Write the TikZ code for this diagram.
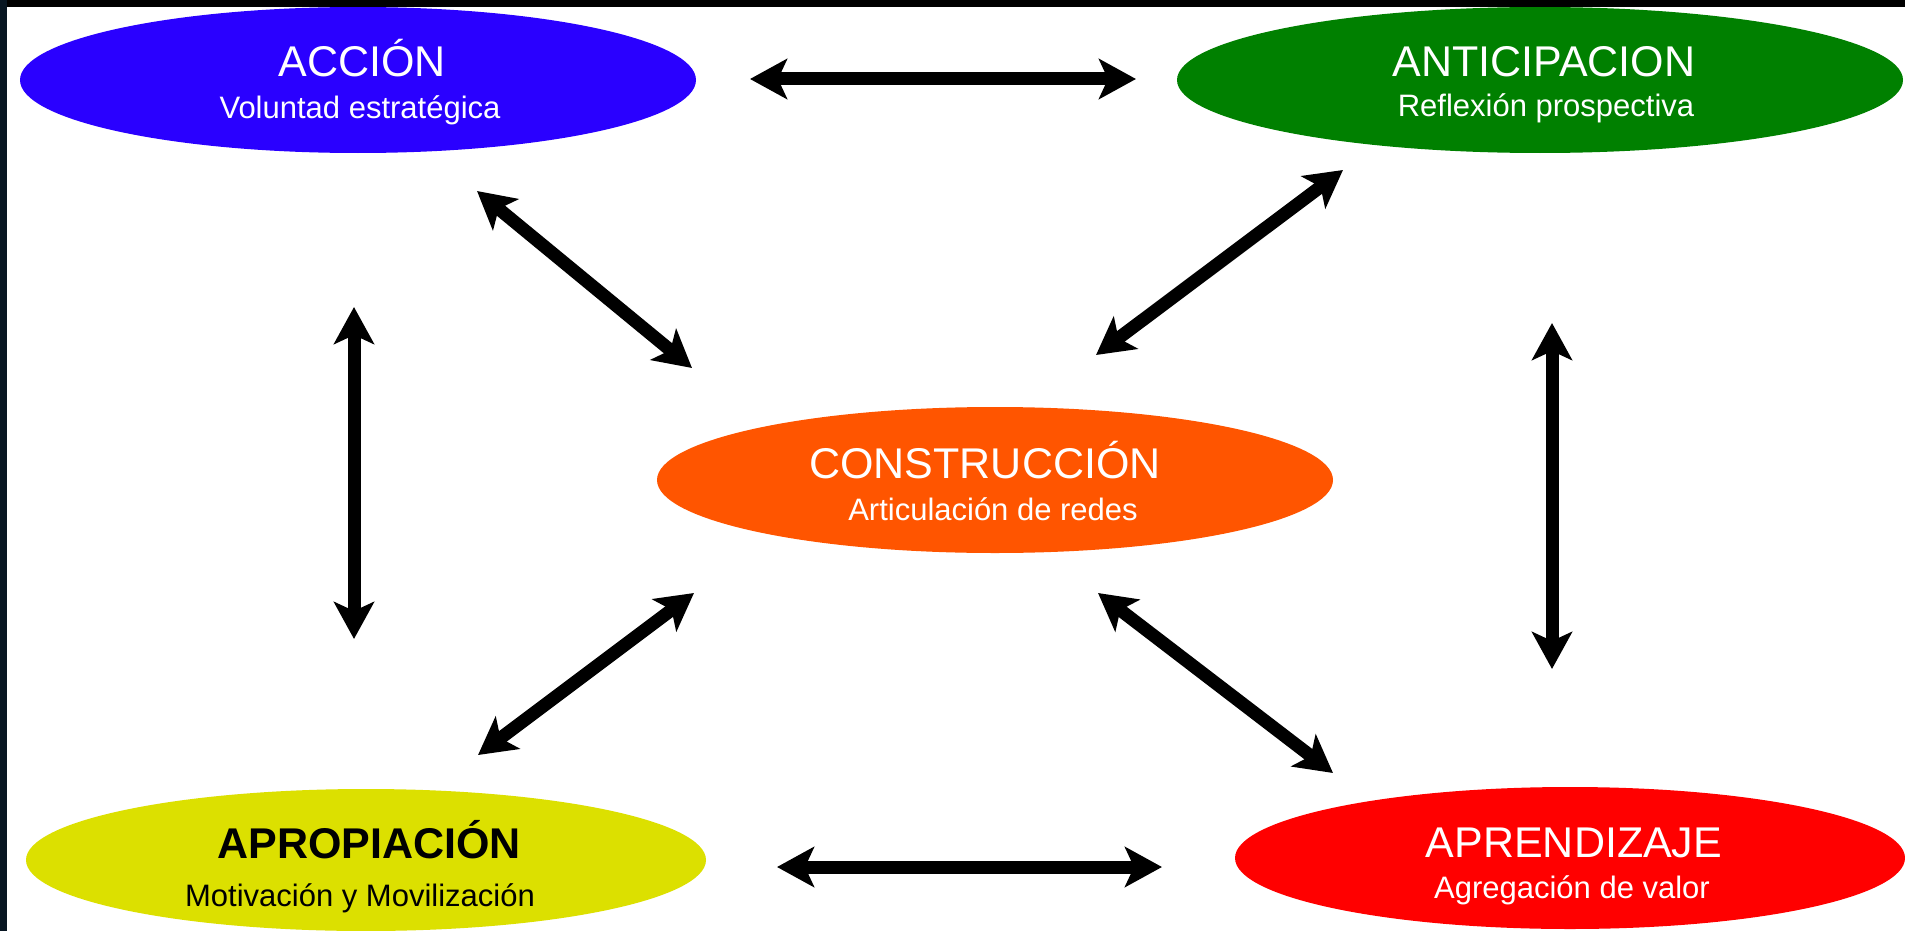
\documentclass[tikz,border=0pt]{standalone}
\usepackage{fontspec}
\setmainfont{Liberation Sans}
\usetikzlibrary{shapes.geometric,arrows.meta}
\definecolor{cacc}{RGB}{42,0,255}
\definecolor{cant}{RGB}{0,128,0}
\definecolor{ccon}{RGB}{255,85,0}
\definecolor{capr}{RGB}{220,224,0}
\definecolor{capz}{RGB}{255,0,0}
\definecolor{edge}{RGB}{8,22,34}
\tikzset{
  ell/.style={ellipse, draw=none, inner sep=0pt},
  ttl/.style={anchor=base, text=white, font=\fontsize{43}{48}\selectfont},
  sub/.style={anchor=base, text=white, font=\fontsize{31}{36}\selectfont},
  arr/.style={line width=13pt, {Stealth[length=37pt,width=40pt,inset=9pt]}-{Stealth[length=37pt,width=40pt,inset=9pt]}}
}
\begin{document}
\begin{tikzpicture}[x=1pt,y=-1pt]
\useasboundingbox (0,0) rectangle (1905,931);
\fill[white] (0,0) rectangle (1905,931);
% ellipses
\node[ell, fill=cacc, minimum width=676pt, minimum height=146pt] (acc) at (358,80) {};
\node[ell, fill=cant, minimum width=726pt, minimum height=146pt] (ant) at (1540,80) {};
\node[ell, fill=ccon, minimum width=676pt, minimum height=146pt] (con) at (995,480) {};
\node[ell, fill=capr, minimum width=680pt, minimum height=142pt] (apr) at (366,860) {};
\node[ell, fill=capz, minimum width=670pt, minimum height=142pt] (apz) at (1570,858) {};
% texts
\node[ttl] (accT) at (362,77) {ACCIÓN};
\node[sub] (accS) at (360,118) {Voluntad estratégica};
\node[ttl] (antT) at (1544,77) {ANTICIPACION};
\node[sub] (antS) at (1546,117) {Reflexión prospectiva};
\node[ttl] (conT) at (985,478) {CONSTRUCCIÓN};
\node[sub] (conS) at (993,520) {Articulación de redes};
\node[ttl, text=black, font=\bfseries\fontsize{43}{48}\selectfont] (aprT) at (369,858) {APROPIACIÓN};
\node[sub, text=black] (aprS) at (360,906) {Motivación y Movilización};
\node[ttl] (apzT) at (1574,857) {APRENDIZAJE};
\node[sub] (apzS) at (1572,898) {Agregación de valor};
% arrow ends
\coordinate (t1) at (750,79);   \coordinate (t2) at (1136,79);
\coordinate (b1) at (777,867);  \coordinate (b2) at (1162,867);
\coordinate (l1) at (354,307);  \coordinate (l2) at (354,639);
\coordinate (r1) at (1552,323); \coordinate (r2) at (1552,669);
\coordinate (d1) at (477,191);  \coordinate (d2) at (692,368);
\coordinate (e1) at (1343,170); \coordinate (e2) at (1096,355);
\coordinate (f1) at (694,593);  \coordinate (f2) at (478,755);
\coordinate (g1) at (1098,593); \coordinate (g2) at (1333,773);
\draw[arr] (t1) -- (t2);
\draw[arr] (b1) -- (b2);
\draw[arr] (l1) -- (l2);
\draw[arr] (r1) -- (r2);
\draw[arr] (d1) -- (d2);
\draw[arr] (e1) -- (e2);
\draw[arr] (f1) -- (f2);
\draw[arr] (g1) -- (g2);
% frame edges
\fill[black] (0,0) rectangle (1905,7);
\fill[edge] (0,0) rectangle (7,931);
\end{tikzpicture}
\end{document}
